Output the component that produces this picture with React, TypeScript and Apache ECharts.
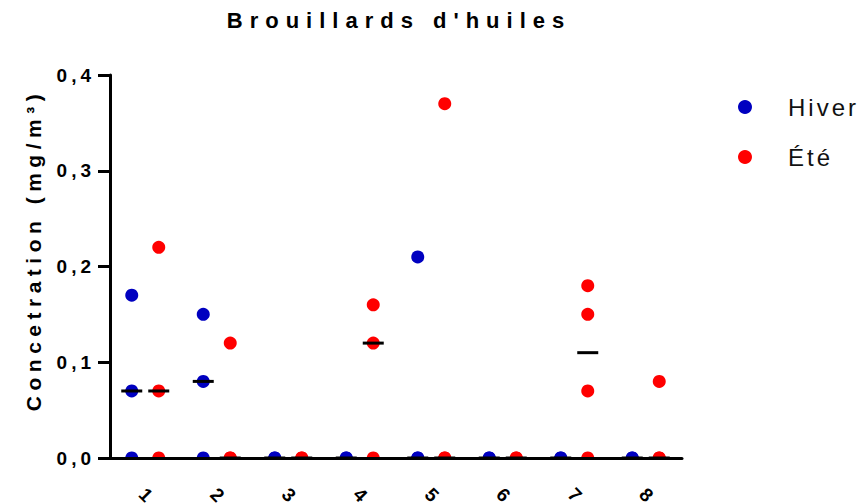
import React, { useEffect, useRef } from 'react';
import * as echarts from 'echarts';

// ---- data ----
const TITLE = "Brouillards d'huiles";
const Y_NAME = 'Concetration (mg/m³)';
const categories = ['1', '2', '3', '4', '5', '6', '7', '8'];
const hiverValues: number[][] = [
  [0.17, 0.07, 0],
  [0.15, 0.08, 0],
  [0, 0],
  [0, 0],
  [0.21, 0, 0],
  [0, 0],
  [0, 0],
  [0, 0],
];
const eteValues: number[][] = [
  [0.22, 0.07, 0],
  [0.12, 0, 0],
  [0, 0],
  [0.16, 0.12, 0],
  [0.37, 0, 0],
  [0, 0],
  [0.18, 0.15, 0.07, 0],
  [0.08, 0, 0],
];
const hiverMedians = [0.07, 0.08, 0, 0, 0, 0, 0, 0];
const eteMedians = [0.07, 0, 0, 0.12, 0, 0, 0.11, 0];
const yTicks = [0, 0.1, 0.2, 0.3, 0.4];

// ---- layout / style ----
const W = 860;
const H = 503;
const GRID_LEFT = 110;
const GRID_TOP = 75;
const GRID_RIGHT = 178;
const GRID_BOTTOM = 45;
const BLUE = '#0000c0';
const RED = '#ff0000';
const FONT = '"Liberation Sans", Arial, Helvetica, sans-serif';
const HIVER_OFFSET = -14;
const ETE_OFFSET = 13;

const toPairs = (groups: number[][]) =>
  groups.flatMap((vals, i) => vals.map((v) => [i, v]));

export default function App() {
  const ref = useRef<HTMLDivElement>(null);

  useEffect(() => {
    document.body.style.margin = '0';
    const el = ref.current!;
    const chart = echarts.init(el, undefined, { renderer: 'svg' });

    const plotCenterX = GRID_LEFT + (W - GRID_LEFT - GRID_RIGHT) / 2;

    const option: any = {
      animation: false,
      backgroundColor: '#ffffff',
      textStyle: { fontFamily: FONT },
      grid: {
        left: GRID_LEFT,
        top: GRID_TOP,
        right: GRID_RIGHT,
        bottom: GRID_BOTTOM,
        outerBoundsMode: 'none',
        containLabel: false,
      },
      legend: {
        orient: 'vertical',
        left: 733,
        top: 90,
        padding: 5,
        itemWidth: 14,
        itemHeight: 14,
        itemGap: 26,
        formatter: '{t|{name}}',
        textStyle: {
          fontFamily: FONT,
          fontSize: 24,
          color: '#111',
          rich: { t: { fontFamily: FONT, fontSize: 24, color: '#111', padding: [0, 0, 0, 31] } },
        },
        data: [
          { name: 'Hiver', icon: 'circle', itemStyle: { color: BLUE, opacity: 1 } },
          { name: 'Été', icon: 'circle', itemStyle: { color: RED, opacity: 1 } },
        ],
      },
      xAxis: {
        type: 'category',
        data: categories,
        boundaryGap: true,
        z: 10,
        axisLine: { lineStyle: { color: '#000', width: 3 } },
        axisTick: { alignWithLabel: true, length: 12, lineStyle: { color: '#000', width: 3 } },
        axisLabel: {
          rotate: -45,
          margin: 37,
          align: 'center',
          verticalAlign: 'middle',
          fontFamily: FONT,
          fontWeight: 'bold',
          fontSize: 19,
          color: '#000',
        },
        splitLine: { show: false },
      },
      yAxis: {
        type: 'value',
        min: yTicks[0],
        max: yTicks[yTicks.length - 1],
        interval: 0.1,
        z: 10,
        axisLine: { show: true, lineStyle: { color: '#000', width: 3 } },
        axisTick: { show: true, length: 12, lineStyle: { color: '#000', width: 3 } },
        axisLabel: {
          margin: 15,
          fontFamily: FONT,
          fontWeight: 'bold',
          fontSize: 19,
          color: '#000',
          formatter: (v: number) => v.toFixed(1).replace('.', ','),
        },
        splitLine: { show: false },
      },
      graphic: [
        {
          type: 'text',
          x: plotCenterX + 3,
          y: 9,
          style: {
            text: TITLE,
            font: `bold 22px ${FONT}`,
            fill: '#000',
            textAlign: 'center',
            textVerticalAlign: 'top',
          },
        },
        {
          type: 'text',
          x: 33,
          y: 250,
          rotation: Math.PI / 2,
          style: {
            text: Y_NAME,
            font: `bold 21px ${FONT}`,
            fill: '#000',
            textAlign: 'center',
            textVerticalAlign: 'middle',
          },
        },
        {
          type: 'rect',
          z: 5,
          shape: { x: GRID_LEFT + 2, y: H - GRID_BOTTOM + 1.5, width: W - GRID_LEFT - GRID_RIGHT + 10, height: 20 },
          style: { fill: '#ffffff' },
        },
      ],
      series: [
        {
          name: 'Hiver',
          type: 'scatter',
          data: toPairs(hiverValues),
          symbol: 'circle',
          symbolSize: 13,
          symbolOffset: [HIVER_OFFSET, 0],
          itemStyle: { color: BLUE, opacity: 1 },
          z: 2,
        },
        {
          name: 'Été',
          type: 'scatter',
          data: toPairs(eteValues),
          symbol: 'circle',
          symbolSize: 13,
          symbolOffset: [ETE_OFFSET, 0],
          itemStyle: { color: RED, opacity: 1 },
          z: 2,
        },
        {
          name: 'Hiver médiane',
          type: 'scatter',
          data: hiverMedians.map((v, i) => [i, v]),
          symbol: 'rect',
          symbolSize: [21, 3],
          symbolOffset: [HIVER_OFFSET, 0],
          itemStyle: { color: '#000', opacity: 1 },
          z: 3,
        },
        {
          name: 'Été médiane',
          type: 'scatter',
          data: eteMedians.map((v, i) => [i, v]),
          symbol: 'rect',
          symbolSize: [21, 3],
          symbolOffset: [ETE_OFFSET, 0],
          itemStyle: { color: '#000', opacity: 1 },
          z: 3,
        },
      ],
    };

    chart.setOption(option);

    const applySpacing = () => {
      el.querySelectorAll('text').forEach((t) => {
        const s = t.textContent || '';
        let ls = '';
        if (s === TITLE) ls = '7px';
        else if (s === Y_NAME) ls = '5.5px';
        else if (s === 'Hiver' || s === 'Été') ls = '3px';
        else if (s.includes(',')) ls = '4px';
        if (ls) t.setAttribute('letter-spacing', ls);
      });
    };
    applySpacing();
    chart.on('finished', applySpacing);

    return () => {
      chart.dispose();
    };
  }, []);

  return <div ref={ref} style={{ width: W, height: H }} />;
}
